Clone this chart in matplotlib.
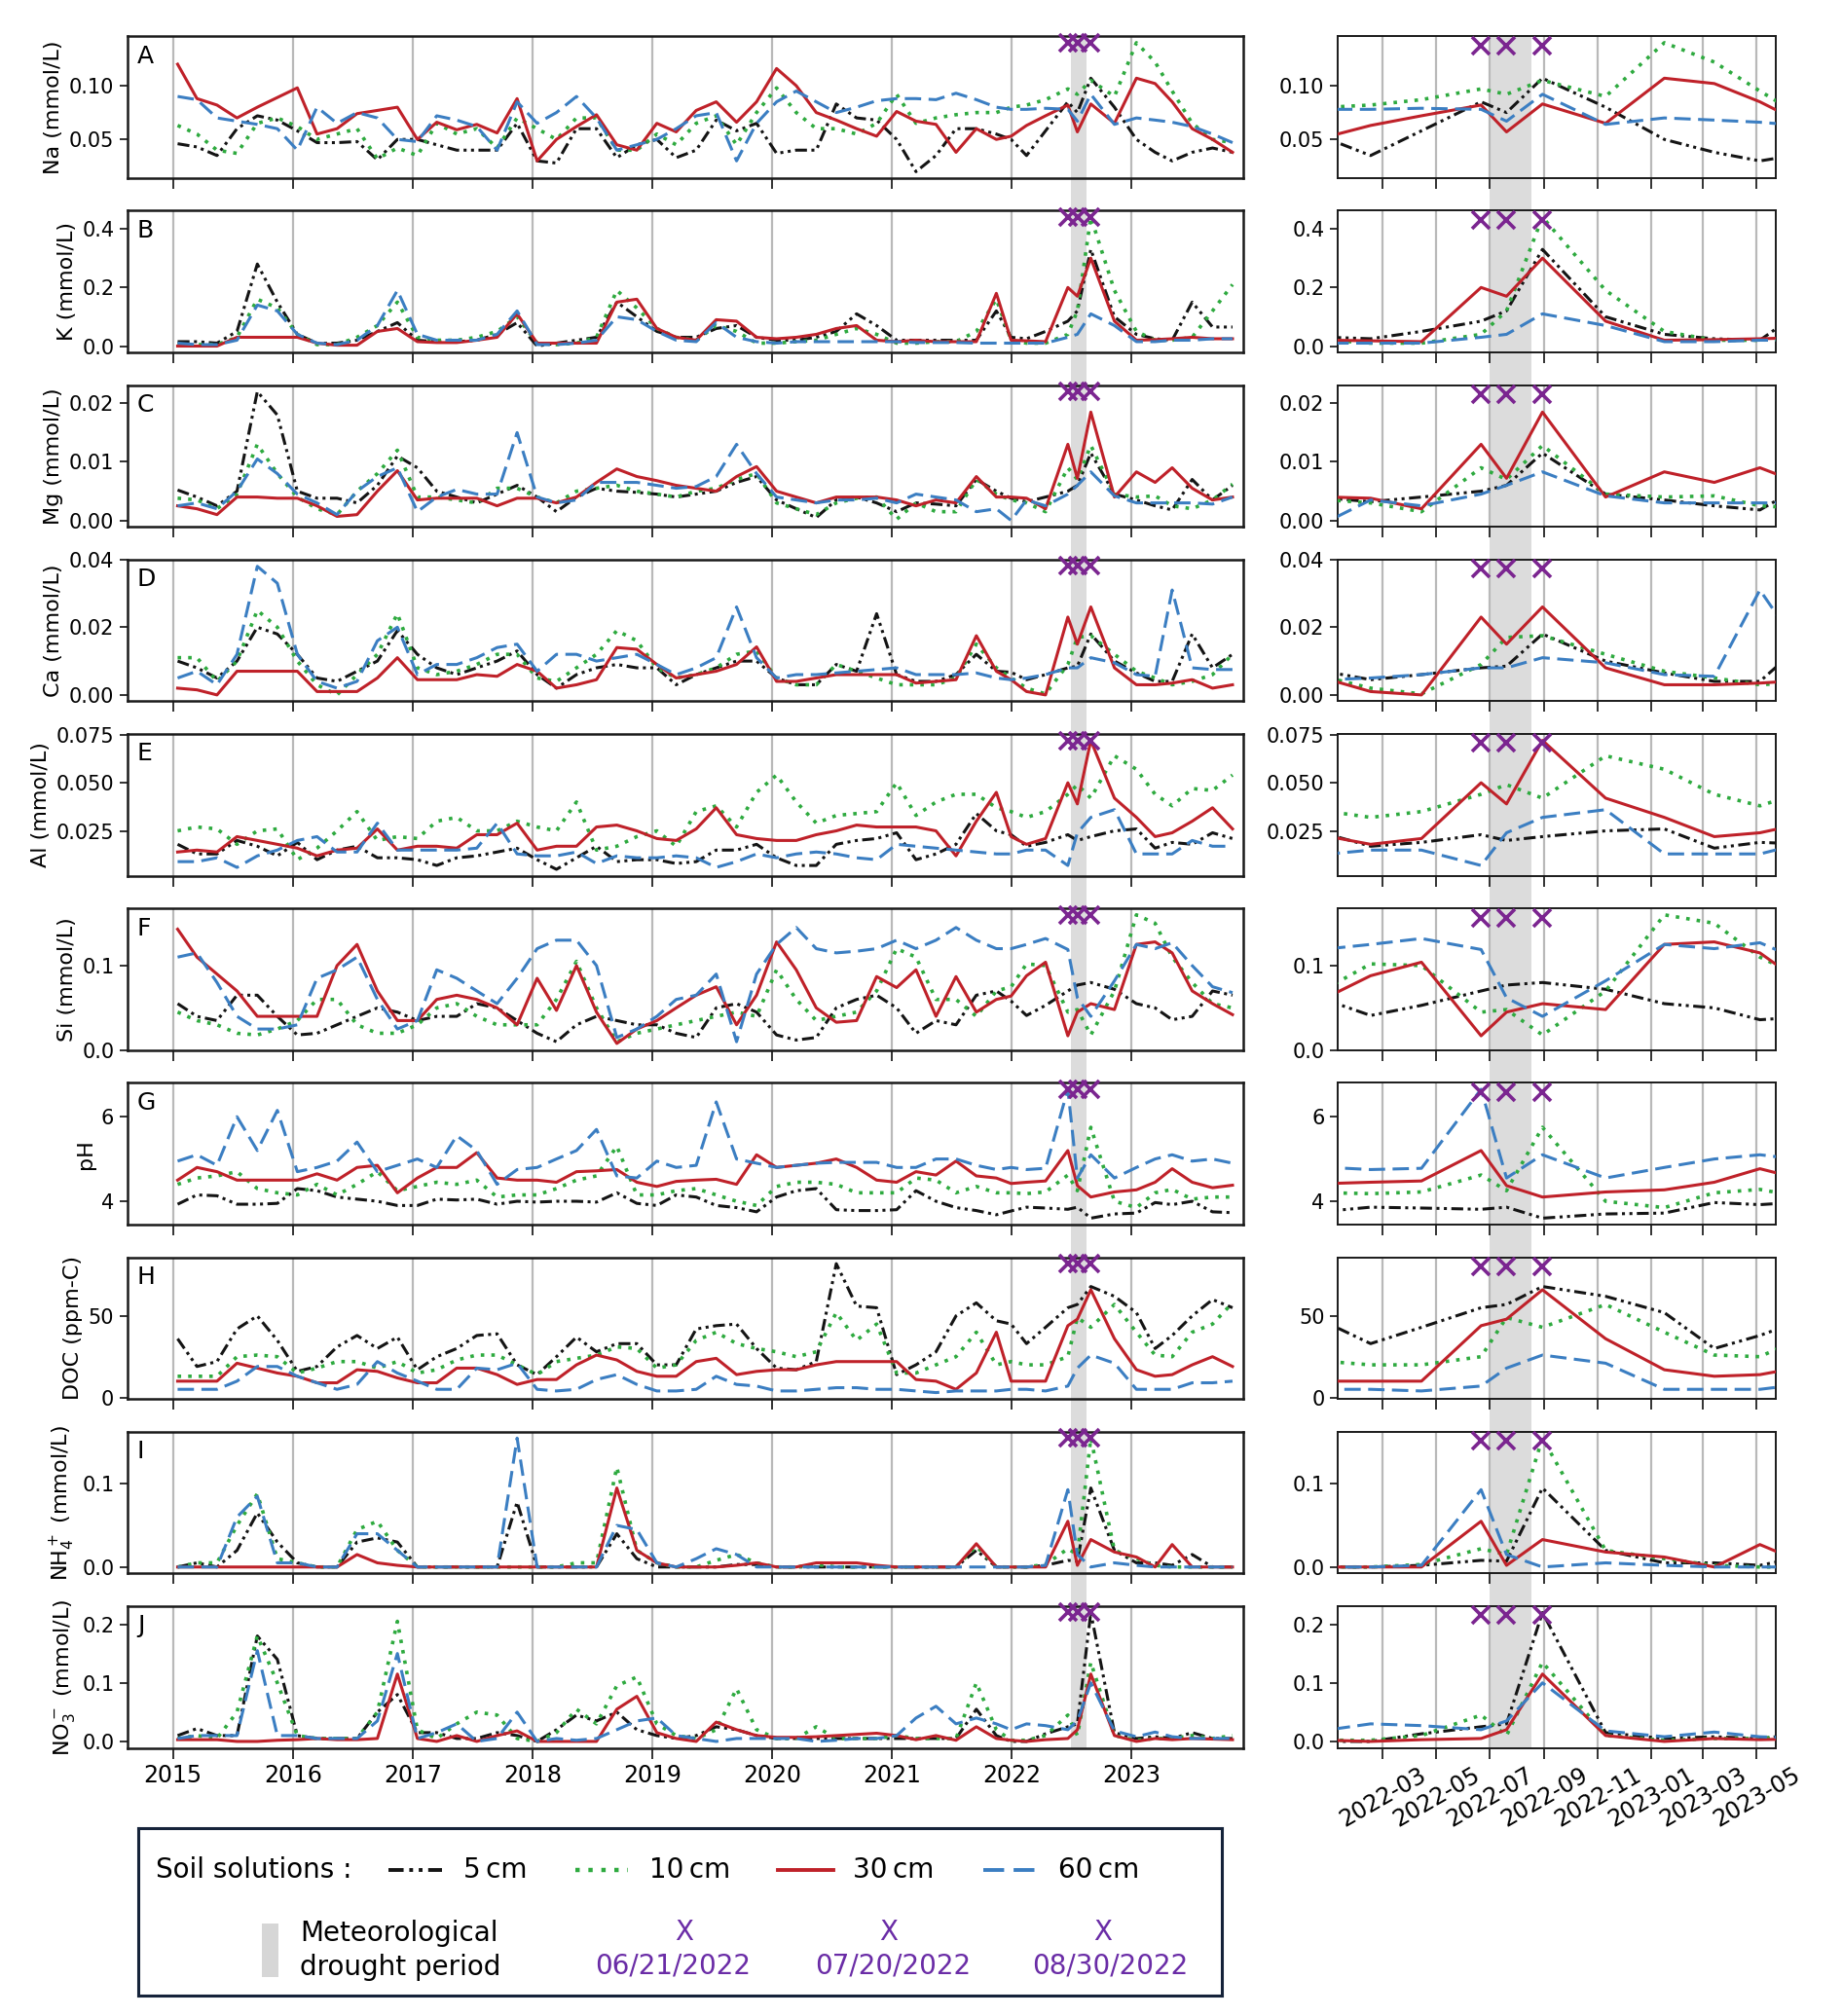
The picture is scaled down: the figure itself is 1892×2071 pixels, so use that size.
import matplotlib
matplotlib.use("Agg")
import matplotlib.pyplot as plt
import matplotlib.dates as mdates
import pandas as pd

# ---------------- data ----------------
sample_dates = [
    "2015-01-15", "2015-03-15", "2015-05-15", "2015-07-15", "2015-09-15", "2015-11-15",
    "2016-01-15", "2016-03-15", "2016-05-15", "2016-07-15", "2016-09-15", "2016-11-15",
    "2017-01-15", "2017-03-15", "2017-05-15", "2017-07-15", "2017-09-15", "2017-11-15",
    "2018-01-15", "2018-03-15", "2018-05-15", "2018-07-15", "2018-09-15", "2018-11-15",
    "2019-01-15", "2019-03-15", "2019-05-15", "2019-07-15", "2019-09-15", "2019-11-15",
    "2020-01-15", "2020-03-15", "2020-05-15", "2020-07-15", "2020-09-15", "2020-11-15",
    "2021-01-15", "2021-03-15", "2021-05-15", "2021-07-15", "2021-09-15", "2021-11-15",
    "2021-12-30", "2022-02-15", "2022-04-14", "2022-06-21", "2022-07-20", "2022-08-30",
    "2022-11-10", "2023-01-16", "2023-03-14", "2023-05-05", "2023-07-05", "2023-09-05",
    "2023-11-05",
]

na_5 = [0.046, 0.043, 0.035, 0.060, 0.072, 0.068, 0.058, 0.047, 0.047, 0.048, 0.031, 0.050, 0.050, 0.045, 0.040, 0.040, 0.040, 0.065, 0.030, 0.028, 0.060, 0.060, 0.033, 0.045, 0.050, 0.033, 0.040, 0.068, 0.058, 0.065, 0.037, 0.040, 0.040, 0.083, 0.070, 0.068, 0.050, 0.020, 0.035, 0.060, 0.060, 0.055, 0.050, 0.035, 0.058, 0.085, 0.075, 0.107, 0.080, 0.050, 0.038, 0.030, 0.038, 0.042, 0.038]
na_10 = [0.063, 0.055, 0.040, 0.037, 0.065, 0.070, 0.062, 0.050, 0.055, 0.060, 0.032, 0.042, 0.035, 0.065, 0.055, 0.060, 0.042, 0.070, 0.060, 0.050, 0.070, 0.070, 0.040, 0.040, 0.055, 0.045, 0.065, 0.072, 0.045, 0.075, 0.098, 0.075, 0.060, 0.060, 0.055, 0.065, 0.092, 0.065, 0.070, 0.073, 0.075, 0.075, 0.080, 0.082, 0.087, 0.097, 0.092, 0.105, 0.090, 0.140, 0.122, 0.095, 0.065, 0.050, 0.047]
na_30 = [0.120, 0.088, 0.082, 0.070, 0.080, 0.089, 0.098, 0.055, 0.060, 0.074, 0.077, 0.080, 0.050, 0.066, 0.059, 0.064, 0.056, 0.088, 0.030, 0.050, 0.062, 0.073, 0.045, 0.040, 0.065, 0.057, 0.077, 0.085, 0.066, 0.085, 0.116, 0.100, 0.075, 0.068, 0.060, 0.053, 0.076, 0.067, 0.064, 0.038, 0.060, 0.050, 0.053, 0.063, 0.072, 0.082, 0.057, 0.083, 0.065, 0.107, 0.102, 0.085, 0.060, 0.050, 0.038]
na_60 = [0.090, 0.087, 0.070, 0.067, 0.064, 0.060, 0.040, 0.080, 0.065, 0.075, 0.070, 0.050, 0.048, 0.072, 0.068, 0.062, 0.040, 0.085, 0.065, 0.075, 0.090, 0.070, 0.040, 0.045, 0.050, 0.060, 0.072, 0.075, 0.030, 0.065, 0.085, 0.095, 0.085, 0.075, 0.080, 0.086, 0.088, 0.088, 0.087, 0.093, 0.087, 0.080, 0.078, 0.078, 0.079, 0.078, 0.067, 0.092, 0.064, 0.070, 0.068, 0.066, 0.062, 0.055, 0.047]

k_5 = [0.015, 0.015, 0.010, 0.050, 0.280, 0.150, 0.040, 0.010, 0.010, 0.020, 0.050, 0.080, 0.020, 0.015, 0.015, 0.020, 0.040, 0.080, 0.000, 0.010, 0.020, 0.030, 0.150, 0.100, 0.050, 0.030, 0.030, 0.060, 0.070, 0.030, 0.020, 0.020, 0.030, 0.050, 0.110, 0.070, 0.020, 0.020, 0.020, 0.020, 0.020, 0.120, 0.030, 0.025, 0.050, 0.085, 0.120, 0.330, 0.100, 0.040, 0.025, 0.020, 0.150, 0.065, 0.065]
k_10 = [0.005, 0.005, 0.005, 0.030, 0.160, 0.130, 0.040, 0.005, 0.005, 0.030, 0.070, 0.150, 0.030, 0.020, 0.020, 0.030, 0.050, 0.100, 0.010, 0.005, 0.010, 0.030, 0.190, 0.130, 0.060, 0.030, 0.020, 0.070, 0.050, 0.010, 0.010, 0.015, 0.020, 0.040, 0.060, 0.040, 0.010, 0.010, 0.015, 0.015, 0.050, 0.160, 0.020, 0.010, 0.010, 0.040, 0.120, 0.440, 0.190, 0.050, 0.020, 0.020, 0.030, 0.120, 0.210]
k_30 = [0.000, 0.000, 0.000, 0.030, 0.030, 0.030, 0.030, 0.010, 0.003, 0.003, 0.050, 0.060, 0.015, 0.012, 0.012, 0.020, 0.030, 0.110, 0.010, 0.010, 0.010, 0.010, 0.150, 0.160, 0.060, 0.030, 0.020, 0.090, 0.085, 0.030, 0.025, 0.030, 0.040, 0.060, 0.070, 0.020, 0.015, 0.020, 0.015, 0.015, 0.015, 0.180, 0.020, 0.018, 0.015, 0.200, 0.170, 0.300, 0.085, 0.020, 0.022, 0.025, 0.030, 0.025, 0.025]
k_60 = [0.010, 0.005, 0.005, 0.020, 0.140, 0.120, 0.040, 0.010, 0.005, 0.020, 0.070, 0.190, 0.040, 0.020, 0.020, 0.020, 0.040, 0.120, 0.005, 0.005, 0.010, 0.020, 0.100, 0.090, 0.050, 0.020, 0.015, 0.080, 0.030, 0.015, 0.010, 0.015, 0.015, 0.015, 0.015, 0.015, 0.015, 0.012, 0.012, 0.012, 0.010, 0.010, 0.010, 0.010, 0.010, 0.030, 0.040, 0.110, 0.070, 0.015, 0.015, 0.020, 0.020, 0.025, 0.025]

mg_5 = [0.0052, 0.0040, 0.0025, 0.0050, 0.0220, 0.0180, 0.0050, 0.0038, 0.0038, 0.0030, 0.0060, 0.0110, 0.0090, 0.0050, 0.0040, 0.0030, 0.0045, 0.0060, 0.0040, 0.0015, 0.0040, 0.0055, 0.0050, 0.0048, 0.0045, 0.0040, 0.0045, 0.0050, 0.0065, 0.0075, 0.0035, 0.0020, 0.0005, 0.0035, 0.0040, 0.0030, 0.0015, 0.0030, 0.0028, 0.0025, 0.0070, 0.0050, 0.0038, 0.0032, 0.0040, 0.0050, 0.0060, 0.0115, 0.0045, 0.0035, 0.0025, 0.0018, 0.0070, 0.0035, 0.0060]
mg_10 = [0.0038, 0.0035, 0.0020, 0.0045, 0.0130, 0.0080, 0.0040, 0.0020, 0.0010, 0.0050, 0.0080, 0.0120, 0.0040, 0.0040, 0.0035, 0.0030, 0.0055, 0.0055, 0.0040, 0.0030, 0.0050, 0.0055, 0.0060, 0.0050, 0.0045, 0.0040, 0.0050, 0.0055, 0.0070, 0.0080, 0.0030, 0.0020, 0.0010, 0.0030, 0.0038, 0.0040, 0.0002, 0.0030, 0.0015, 0.0015, 0.0070, 0.0045, 0.0035, 0.0030, 0.0015, 0.0090, 0.0070, 0.0128, 0.0045, 0.0040, 0.0042, 0.0025, 0.0020, 0.0035, 0.0062]
mg_30 = [0.0025, 0.0020, 0.0010, 0.0040, 0.0040, 0.0038, 0.0038, 0.0025, 0.0007, 0.0010, 0.0050, 0.0085, 0.0035, 0.0038, 0.0038, 0.0038, 0.0025, 0.0038, 0.0038, 0.0030, 0.0040, 0.0065, 0.0088, 0.0075, 0.0068, 0.0060, 0.0055, 0.0050, 0.0075, 0.0092, 0.0050, 0.0040, 0.0030, 0.0040, 0.0040, 0.0040, 0.0035, 0.0025, 0.0035, 0.0030, 0.0075, 0.0040, 0.0040, 0.0038, 0.0020, 0.0130, 0.0072, 0.0185, 0.0040, 0.0083, 0.0065, 0.0090, 0.0055, 0.0035, 0.0040]
mg_60 = [0.0025, 0.0030, 0.0020, 0.0050, 0.0105, 0.0080, 0.0045, 0.0030, 0.0010, 0.0050, 0.0075, 0.0090, 0.0015, 0.0040, 0.0053, 0.0045, 0.0045, 0.0150, 0.0040, 0.0030, 0.0035, 0.0065, 0.0065, 0.0065, 0.0060, 0.0055, 0.0058, 0.0075, 0.0130, 0.0080, 0.0040, 0.0035, 0.0030, 0.0035, 0.0035, 0.0038, 0.0030, 0.0045, 0.0040, 0.0035, 0.0015, 0.0020, 0.0000, 0.0035, 0.0025, 0.0045, 0.0060, 0.0083, 0.0042, 0.0030, 0.0030, 0.0030, 0.0030, 0.0028, 0.0040]

ca_5 = [0.010, 0.008, 0.005, 0.010, 0.020, 0.018, 0.012, 0.005, 0.004, 0.007, 0.010, 0.019, 0.012, 0.008, 0.006, 0.008, 0.010, 0.013, 0.006, 0.002, 0.006, 0.008, 0.009, 0.008, 0.008, 0.003, 0.006, 0.008, 0.010, 0.010, 0.005, 0.003, 0.003, 0.009, 0.007, 0.024, 0.006, 0.004, 0.004, 0.006, 0.012, 0.007, 0.0067, 0.0045, 0.006, 0.008, 0.0085, 0.018, 0.010, 0.0065, 0.004, 0.004, 0.018, 0.008, 0.012]
ca_10 = [0.011, 0.011, 0.004, 0.010, 0.025, 0.020, 0.010, 0.003, 0.000, 0.006, 0.012, 0.024, 0.008, 0.006, 0.007, 0.009, 0.012, 0.012, 0.005, 0.004, 0.008, 0.012, 0.019, 0.016, 0.008, 0.005, 0.006, 0.008, 0.012, 0.013, 0.005, 0.003, 0.003, 0.009, 0.007, 0.005, 0.003, 0.003, 0.003, 0.005, 0.015, 0.008, 0.005, 0.002, 0.0003, 0.009, 0.017, 0.0175, 0.012, 0.007, 0.005, 0.003, 0.004, 0.006, 0.012]
ca_30 = [0.002, 0.0015, 0.000, 0.007, 0.007, 0.007, 0.007, 0.001, 0.001, 0.001, 0.005, 0.011, 0.0045, 0.0045, 0.0045, 0.006, 0.0055, 0.009, 0.007, 0.002, 0.003, 0.0045, 0.014, 0.0135, 0.009, 0.005, 0.006, 0.007, 0.009, 0.0142, 0.004, 0.004, 0.005, 0.006, 0.006, 0.006, 0.006, 0.0035, 0.004, 0.0045, 0.0175, 0.007, 0.0045, 0.001, 0.000, 0.023, 0.015, 0.026, 0.008, 0.003, 0.003, 0.0035, 0.0045, 0.002, 0.003]
ca_60 = [0.005, 0.007, 0.003, 0.012, 0.038, 0.033, 0.012, 0.004, 0.002, 0.004, 0.016, 0.020, 0.006, 0.009, 0.009, 0.011, 0.014, 0.015, 0.007, 0.012, 0.012, 0.010, 0.011, 0.012, 0.009, 0.006, 0.008, 0.011, 0.026, 0.011, 0.005, 0.006, 0.006, 0.0065, 0.007, 0.0075, 0.008, 0.006, 0.006, 0.006, 0.0065, 0.005, 0.0045, 0.005, 0.006, 0.008, 0.008, 0.011, 0.0095, 0.006, 0.0055, 0.031, 0.008, 0.0075, 0.0075]

al_5 = [0.018, 0.013, 0.013, 0.020, 0.017, 0.012, 0.019, 0.010, 0.015, 0.017, 0.011, 0.011, 0.010, 0.007, 0.011, 0.012, 0.014, 0.016, 0.010, 0.005, 0.011, 0.017, 0.009, 0.010, 0.010, 0.008, 0.009, 0.015, 0.015, 0.018, 0.011, 0.007, 0.007, 0.018, 0.020, 0.021, 0.024, 0.010, 0.013, 0.018, 0.034, 0.025, 0.023, 0.017, 0.019, 0.023, 0.020, 0.022, 0.025, 0.026, 0.016, 0.019, 0.018, 0.024, 0.021]
al_10 = [0.025, 0.027, 0.026, 0.018, 0.025, 0.026, 0.010, 0.016, 0.025, 0.035, 0.020, 0.022, 0.021, 0.030, 0.032, 0.025, 0.025, 0.030, 0.027, 0.025, 0.040, 0.015, 0.017, 0.022, 0.025, 0.017, 0.035, 0.038, 0.027, 0.045, 0.054, 0.040, 0.029, 0.033, 0.034, 0.035, 0.050, 0.033, 0.040, 0.044, 0.044, 0.037, 0.035, 0.032, 0.035, 0.044, 0.049, 0.042, 0.064, 0.057, 0.044, 0.038, 0.047, 0.046, 0.054]
al_30 = [0.014, 0.015, 0.014, 0.022, 0.020, 0.018, 0.016, 0.012, 0.015, 0.016, 0.026, 0.015, 0.017, 0.017, 0.016, 0.023, 0.023, 0.029, 0.015, 0.017, 0.017, 0.027, 0.028, 0.025, 0.021, 0.020, 0.026, 0.037, 0.023, 0.021, 0.020, 0.020, 0.023, 0.025, 0.028, 0.027, 0.027, 0.027, 0.025, 0.012, 0.030, 0.045, 0.022, 0.018, 0.021, 0.050, 0.039, 0.072, 0.042, 0.032, 0.022, 0.024, 0.030, 0.037, 0.026]
al_60 = [0.009, 0.009, 0.011, 0.006, 0.012, 0.015, 0.020, 0.022, 0.014, 0.014, 0.029, 0.015, 0.015, 0.015, 0.015, 0.016, 0.029, 0.013, 0.012, 0.012, 0.014, 0.008, 0.012, 0.011, 0.011, 0.012, 0.011, 0.006, 0.009, 0.013, 0.011, 0.013, 0.014, 0.013, 0.011, 0.010, 0.018, 0.017, 0.016, 0.015, 0.014, 0.013, 0.013, 0.015, 0.015, 0.007, 0.024, 0.032, 0.036, 0.013, 0.013, 0.013, 0.020, 0.017, 0.017]

si_5 = [0.055, 0.040, 0.035, 0.065, 0.065, 0.040, 0.018, 0.020, 0.030, 0.040, 0.050, 0.045, 0.035, 0.040, 0.040, 0.055, 0.050, 0.035, 0.020, 0.010, 0.030, 0.040, 0.035, 0.030, 0.030, 0.020, 0.015, 0.050, 0.055, 0.045, 0.018, 0.012, 0.015, 0.050, 0.060, 0.065, 0.050, 0.020, 0.035, 0.030, 0.065, 0.070, 0.058, 0.041, 0.053, 0.070, 0.077, 0.080, 0.072, 0.055, 0.050, 0.036, 0.040, 0.070, 0.065]
si_10 = [0.045, 0.035, 0.030, 0.020, 0.018, 0.025, 0.035, 0.060, 0.060, 0.030, 0.020, 0.020, 0.030, 0.050, 0.055, 0.040, 0.030, 0.030, 0.030, 0.060, 0.105, 0.050, 0.010, 0.020, 0.025, 0.030, 0.035, 0.040, 0.045, 0.040, 0.095, 0.060, 0.035, 0.040, 0.045, 0.070, 0.120, 0.110, 0.060, 0.060, 0.040, 0.070, 0.075, 0.102, 0.100, 0.045, 0.048, 0.018, 0.070, 0.160, 0.150, 0.110, 0.080, 0.055, 0.050]
si_30 = [0.143, 0.110, 0.090, 0.070, 0.040, 0.040, 0.040, 0.040, 0.100, 0.125, 0.070, 0.035, 0.035, 0.060, 0.065, 0.060, 0.050, 0.030, 0.085, 0.047, 0.100, 0.045, 0.008, 0.025, 0.035, 0.050, 0.065, 0.075, 0.030, 0.065, 0.128, 0.095, 0.050, 0.033, 0.035, 0.087, 0.074, 0.095, 0.040, 0.087, 0.045, 0.060, 0.064, 0.088, 0.104, 0.017, 0.045, 0.055, 0.048, 0.125, 0.128, 0.115, 0.070, 0.055, 0.042]
si_60 = [0.110, 0.115, 0.080, 0.040, 0.025, 0.025, 0.030, 0.085, 0.095, 0.110, 0.060, 0.025, 0.035, 0.095, 0.085, 0.070, 0.055, 0.085, 0.120, 0.130, 0.130, 0.100, 0.015, 0.025, 0.040, 0.060, 0.065, 0.090, 0.010, 0.090, 0.125, 0.145, 0.120, 0.115, 0.117, 0.120, 0.130, 0.120, 0.130, 0.145, 0.130, 0.120, 0.120, 0.125, 0.132, 0.119, 0.062, 0.040, 0.082, 0.125, 0.120, 0.127, 0.100, 0.075, 0.068]

ph_5 = [3.93, 4.15, 4.13, 3.93, 3.93, 3.95, 4.30, 4.25, 4.10, 4.05, 4.00, 3.90, 3.90, 4.05, 4.03, 4.05, 3.93, 4.00, 3.98, 4.00, 4.00, 3.98, 4.20, 3.95, 3.90, 4.15, 4.10, 3.90, 3.85, 3.75, 4.10, 4.25, 4.30, 3.80, 3.78, 3.78, 3.80, 4.25, 4.00, 3.85, 3.78, 3.68, 3.77, 3.86, 3.84, 3.81, 3.86, 3.60, 3.70, 3.72, 3.97, 3.92, 4.00, 3.75, 3.73]
ph_10 = [4.40, 4.55, 4.60, 4.70, 4.30, 4.20, 4.15, 4.40, 4.15, 4.40, 4.70, 4.25, 4.35, 4.45, 4.40, 4.50, 4.10, 4.15, 4.15, 4.30, 4.50, 4.60, 5.30, 4.15, 4.15, 4.25, 4.30, 4.15, 4.00, 3.90, 4.35, 4.45, 4.45, 4.40, 4.20, 4.20, 4.20, 4.55, 4.50, 4.20, 4.35, 4.20, 4.20, 4.18, 4.22, 4.62, 4.25, 5.75, 4.00, 3.85, 4.20, 4.28, 4.05, 4.10, 4.10]
ph_30 = [4.50, 4.80, 4.70, 4.50, 4.50, 4.50, 4.50, 4.65, 4.50, 4.80, 4.85, 4.20, 4.55, 4.80, 4.80, 5.15, 4.55, 4.50, 4.50, 4.45, 4.70, 4.72, 4.75, 4.45, 4.35, 4.47, 4.50, 4.52, 4.40, 5.10, 4.80, 4.85, 4.90, 5.00, 4.80, 4.50, 4.45, 4.70, 4.62, 4.95, 4.60, 4.55, 4.42, 4.45, 4.48, 5.20, 4.37, 4.10, 4.22, 4.27, 4.45, 4.77, 4.45, 4.32, 4.38]
ph_60 = [4.95, 5.10, 4.85, 6.00, 5.20, 6.15, 4.70, 4.80, 4.95, 5.40, 4.70, 4.85, 5.00, 4.80, 5.55, 5.20, 4.40, 4.75, 4.80, 5.00, 5.20, 5.70, 4.60, 4.55, 4.95, 4.80, 4.85, 6.35, 5.00, 4.90, 4.80, 4.85, 4.90, 4.92, 4.92, 4.92, 4.80, 4.80, 5.00, 5.00, 4.85, 4.75, 4.80, 4.75, 4.78, 6.65, 4.55, 5.10, 4.55, 4.80, 5.00, 5.10, 4.95, 5.00, 4.90]

doc_5 = [36, 19, 22, 42, 50, 35, 16, 19, 31, 38, 30, 37, 17, 25, 30, 38, 39, 20, 14, 25, 37, 28, 33, 33, 20, 20, 42, 44, 45, 30, 18, 17, 22, 82, 56, 55, 14, 20, 28, 50, 58, 47, 45, 33, 43, 55, 57, 68, 62, 52, 30, 38, 50, 60, 55]
doc_10 = [13, 13, 13, 25, 26, 25, 15, 18, 22, 22, 18, 22, 15, 17, 23, 26, 26, 20, 14, 22, 24, 26, 31, 30, 18, 20, 35, 40, 33, 30, 28, 25, 28, 52, 35, 45, 15, 15, 20, 25, 40, 20, 22, 20, 20, 25, 49, 43, 57, 40, 26, 25, 40, 45, 58]
doc_30 = [10, 10, 10, 21, 18, 15, 13, 9, 9, 17, 16, 12, 9, 9, 18, 18, 14, 8, 11, 11, 20, 26, 23, 16, 13, 13, 22, 24, 14, 16, 17, 17, 20, 22, 22, 22, 22, 11, 10, 5, 15, 40, 10, 10, 10, 44, 48, 66, 36, 17, 13, 14, 20, 25, 19]
doc_60 = [5, 5, 5, 10, 19, 19, 13, 9, 5, 8, 22, 15, 10, 5, 5, 18, 17, 21, 5, 4, 5, 11, 14, 8, 4, 4, 5, 13, 8, 7, 4, 4, 5, 6, 6, 5, 5, 4, 3, 4, 4, 4, 5, 5, 4, 7, 18, 26, 21, 5, 5, 5, 9, 9, 10]

nh4_5 = [0.000, 0.005, 0.000, 0.020, 0.065, 0.030, 0.005, 0.000, 0.000, 0.030, 0.035, 0.030, 0.000, 0.000, 0.000, 0.000, 0.000, 0.078, 0.000, 0.000, 0.000, 0.000, 0.040, 0.010, 0.000, 0.000, 0.000, 0.000, 0.003, 0.003, 0.000, 0.000, 0.000, 0.000, 0.000, 0.000, 0.000, 0.000, 0.000, 0.000, 0.020, 0.000, 0.000, 0.000, 0.002, 0.008, 0.007, 0.095, 0.020, 0.005, 0.005, 0.002, 0.015, 0.000, 0.000]
nh4_10 = [0.000, 0.005, 0.005, 0.050, 0.088, 0.010, 0.005, 0.000, 0.000, 0.045, 0.055, 0.020, 0.000, 0.000, 0.000, 0.000, 0.000, 0.000, 0.000, 0.000, 0.005, 0.005, 0.120, 0.020, 0.005, 0.000, 0.000, 0.008, 0.015, 0.005, 0.000, 0.000, 0.003, 0.000, 0.000, 0.000, 0.000, 0.000, 0.000, 0.000, 0.025, 0.000, 0.000, 0.000, 0.003, 0.022, 0.015, 0.155, 0.020, 0.010, 0.002, 0.000, 0.000, 0.000, 0.000]
nh4_30 = [0.000, 0.000, 0.000, 0.000, 0.000, 0.000, 0.000, 0.000, 0.000, 0.015, 0.005, 0.002, 0.000, 0.000, 0.000, 0.000, 0.000, 0.000, 0.000, 0.000, 0.000, 0.000, 0.095, 0.020, 0.005, 0.000, 0.000, 0.000, 0.002, 0.005, 0.000, 0.000, 0.005, 0.005, 0.005, 0.002, 0.000, 0.000, 0.000, 0.000, 0.028, 0.000, 0.000, 0.000, 0.000, 0.055, 0.002, 0.033, 0.018, 0.012, 0.000, 0.027, 0.000, 0.000, 0.000]
nh4_60 = [0.000, 0.000, 0.000, 0.060, 0.085, 0.005, 0.005, 0.000, 0.000, 0.040, 0.040, 0.020, 0.000, 0.000, 0.000, 0.000, 0.000, 0.155, 0.000, 0.000, 0.000, 0.000, 0.050, 0.045, 0.005, 0.000, 0.010, 0.022, 0.015, 0.000, 0.000, 0.000, 0.000, 0.000, 0.000, 0.000, 0.000, 0.000, 0.000, 0.000, 0.000, 0.000, 0.000, 0.000, 0.002, 0.093, 0.015, 0.000, 0.005, 0.002, 0.000, 0.000, 0.000, 0.000, 0.000]

no3_5 = [0.010, 0.022, 0.010, 0.010, 0.180, 0.140, 0.010, 0.005, 0.005, 0.005, 0.050, 0.080, 0.015, 0.015, 0.005, 0.005, 0.015, 0.010, 0.000, 0.020, 0.045, 0.035, 0.050, 0.020, 0.010, 0.005, 0.010, 0.025, 0.020, 0.010, 0.005, 0.005, 0.005, 0.005, 0.005, 0.005, 0.005, 0.005, 0.005, 0.005, 0.055, 0.010, 0.000, 0.000, 0.013, 0.025, 0.030, 0.220, 0.015, 0.005, 0.008, 0.005, 0.015, 0.005, 0.005]
no3_10 = [0.005, 0.010, 0.005, 0.050, 0.180, 0.100, 0.010, 0.005, 0.005, 0.005, 0.050, 0.205, 0.020, 0.005, 0.030, 0.050, 0.045, 0.005, 0.000, 0.015, 0.055, 0.030, 0.095, 0.110, 0.030, 0.010, 0.005, 0.020, 0.090, 0.020, 0.005, 0.005, 0.025, 0.005, 0.005, 0.005, 0.010, 0.005, 0.005, 0.005, 0.100, 0.020, 0.002, 0.002, 0.010, 0.045, 0.010, 0.135, 0.010, 0.002, 0.005, 0.005, 0.010, 0.005, 0.010]
no3_30 = [0.003, 0.003, 0.003, 0.000, 0.000, 0.002, 0.003, 0.005, 0.003, 0.003, 0.005, 0.115, 0.005, 0.000, 0.010, 0.000, 0.010, 0.018, 0.000, 0.000, 0.000, 0.000, 0.055, 0.077, 0.015, 0.005, 0.000, 0.033, 0.020, 0.010, 0.007, 0.007, 0.008, 0.010, 0.012, 0.014, 0.010, 0.003, 0.010, 0.002, 0.025, 0.005, 0.002, 0.000, 0.003, 0.005, 0.020, 0.115, 0.010, 0.000, 0.005, 0.003, 0.005, 0.004, 0.003]
no3_60 = [0.005, 0.010, 0.010, 0.010, 0.155, 0.010, 0.010, 0.005, 0.005, 0.005, 0.035, 0.150, 0.005, 0.015, 0.030, 0.000, 0.005, 0.050, 0.000, 0.005, 0.002, 0.005, 0.020, 0.035, 0.040, 0.010, 0.005, 0.000, 0.005, 0.005, 0.005, 0.005, 0.000, 0.002, 0.005, 0.005, 0.010, 0.040, 0.060, 0.030, 0.040, 0.030, 0.020, 0.030, 0.027, 0.020, 0.035, 0.100, 0.018, 0.008, 0.016, 0.008, 0.005, 0.005, 0.005]

panel_letters = ["A", "B", "C", "D", "E", "F", "G", "H", "I", "J"]
panel_ylabels = ["Na (mmol/L)", "K (mmol/L)", "Mg (mmol/L)", "Ca (mmol/L)", "Al (mmol/L)",
                 "Si (mmol/L)", "pH", "DOC (ppm-C)", r"NH$_4^+$ (mmol/L)", r"NO$_3^-$ (mmol/L)"]
panel_series = [
    (na_5, na_10, na_30, na_60), (k_5, k_10, k_30, k_60), (mg_5, mg_10, mg_30, mg_60),
    (ca_5, ca_10, ca_30, ca_60), (al_5, al_10, al_30, al_60), (si_5, si_10, si_30, si_60),
    (ph_5, ph_10, ph_30, ph_60), (doc_5, doc_10, doc_30, doc_60),
    (nh4_5, nh4_10, nh4_30, nh4_60), (no3_5, no3_10, no3_30, no3_60),
]
panel_yticks = [[0.05, 0.10], [0.0, 0.2, 0.4], [0.00, 0.01, 0.02], [0.00, 0.02, 0.04],
                [0.025, 0.050, 0.075], [0.0, 0.1], [4, 6], [0, 50], [0.0, 0.1], [0.0, 0.1, 0.2]]

depth_labels = ["5\u2009cm", "10\u2009cm", "30\u2009cm", "60\u2009cm"]
sampling_events = ["2022-06-21", "2022-07-20", "2022-08-30"]
sampling_labels = ["06/21/2022", "07/20/2022", "08/30/2022"]
drought_start, drought_end = "2022-07-01", "2022-08-17"

# ---------------- style ----------------
colors = ["#141414", "#2eaa3f", "#bf2129", "#3b7ec2"]
styles = [(0, (4, 1.5, 1, 1.5, 1, 1.5)), (0, (1, 2)), "-", (0, (5.5, 2.5))]
widths = [2.2, 2.6, 2.2, 2.2]
mark_col = "#7b2590"
leg_purple = "#6a2ca6"
shade_col = "#dcdcdc"

plt.rcParams["font.family"] = ["DejaVu Sans"]

fig = plt.figure(figsize=(18.92, 20.71), dpi=100)
top, bottom, n = 0.982, 0.133, 10
gap_ratio = 0.23
h = (top - bottom) / (n + gap_ratio * (n - 1))
g = gap_ratio * h
LX, LW = 0.069, 0.606
RX, RW = 0.726, 0.238

t = pd.to_datetime(sample_dates)
ev = pd.to_datetime(sampling_events)
d0, d1 = pd.Timestamp(drought_start), pd.Timestamp(drought_end)

for i in range(n):
    y0 = top - (i + 1) * h - i * g
    axL = fig.add_axes([LX, y0, LW, h])
    axR = fig.add_axes([RX, y0, RW, h], sharey=axL)
    for j, ax in enumerate((axL, axR)):
        ax.set_axisbelow(True)
        for s, c, ls, lw in zip(panel_series[i], colors, styles, widths):
            ax.plot(t, s, color=c, ls=ls, lw=lw, zorder=3)
        ax.axvspan(d0, d1, ymin=(-gap_ratio if i < n - 1 else 0), ymax=1,
                   color=shade_col, lw=0, zorder=0, clip_on=False)
        ax.plot(ev, [0.955 if j == 0 else 0.935] * 3, transform=ax.get_xaxis_transform(),
                ls="none", marker="x", ms=13, mew=2.6, color=mark_col, zorder=5,
                clip_on=False, scalex=False, scaley=False)
        ax.grid(axis="x", color="#b9b9b9", lw=1.6)
        ax.tick_params(axis="both", labelsize=15, length=6, width=1.3, color="#222222")
        for sp in ax.spines.values():
            sp.set_linewidth(1.8 if j == 0 else 1.4)
            sp.set_color("#1a1a1a")
    axL.set_yticks(panel_yticks[i])
    axL.set_ylabel(panel_ylabels[i], fontsize=16)
    axL.text(0.009, 0.86, panel_letters[i], transform=axL.transAxes, fontsize=18,
             va="center", ha="left")

    axL.set_xlim(pd.Timestamp("2014-08-14"), pd.Timestamp("2023-12-08"))
    axL.xaxis.set_major_locator(mdates.YearLocator())
    axL.xaxis.set_major_formatter(mdates.DateFormatter("%Y"))
    axR.set_xlim(pd.Timestamp("2022-01-08"), pd.Timestamp("2023-05-23"))
    axR.xaxis.set_major_locator(mdates.MonthLocator(bymonth=[1, 3, 5, 7, 9, 11]))
    axR.xaxis.set_major_formatter(mdates.DateFormatter("%Y-%m"))
    axL.tick_params(axis="x", length=8, labelsize=17, labelbottom=(i == n - 1))
    axR.tick_params(axis="x", length=8, labelbottom=(i == n - 1))
    if i == n - 1:
        for lab in axR.get_xticklabels():
            lab.set_rotation(30)
            lab.set_ha("center")
            lab.set_fontsize(17)

# ---------------- legend box ----------------
lg = fig.add_axes([0.075, 0.0101, 0.5885, 0.0831])
lg.set_xlim(0, 1)
lg.set_ylim(0, 1)
lg.set_xticks([])
lg.set_yticks([])
for sp in lg.spines.values():
    sp.set_linewidth(2.2)
    sp.set_color("#15233a")

row1 = 0.75
lg.text(0.016, row1, "Soil solutions :", fontsize=20, va="center", ha="left")
handle_x = [(0.231, 0.280), (0.403, 0.452), (0.590, 0.641), (0.780, 0.829)]
label_x = [0.300, 0.472, 0.659, 0.849]
for (x0, x1), lx, lab, c, ls, lw in zip(handle_x, label_x, depth_labels, colors, styles, widths):
    lg.plot([x0, x1], [row1, row1], color=c, ls=ls, lw=lw + 0.6)
    lg.text(lx, row1, lab, fontsize=20, va="center", ha="left")

lg.add_patch(plt.Rectangle((0.114, 0.11), 0.015, 0.32, color="#d6d6d6", lw=0))
lg.text(0.149, 0.37, "Meteorological", fontsize=20, va="center", ha="left")
lg.text(0.149, 0.17, "drought period", fontsize=20, va="center", ha="left")
for xm, xt, lab in zip([0.504, 0.692, 0.890], [0.493, 0.696, 0.897], sampling_labels):
    lg.text(xm, 0.38, "X", fontsize=20, color=leg_purple, va="center", ha="center")
    lg.text(xt, 0.175, lab, fontsize=20, color=leg_purple, va="center", ha="center")

fig.savefig("out.png", dpi=100, facecolor="white")
